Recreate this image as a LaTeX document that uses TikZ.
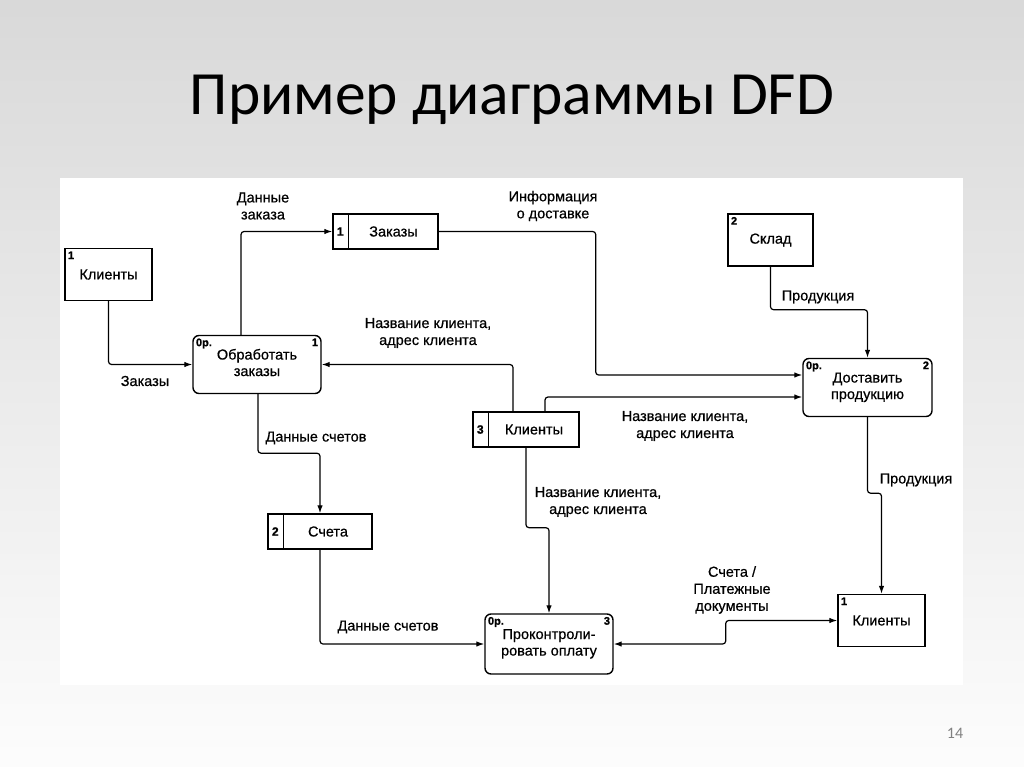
\documentclass[tikz,border=0pt]{standalone}
\usepackage{fontspec}
\setmainfont[FakeBold=1.2]{Liberation Sans}
\newfontfamily\slidefont{Carlito}
\newfontfamily\scanfont[FakeBold=0.6]{Liberation Sans}
\usetikzlibrary{arrows.meta,positioning}
\newcommand{\twolines}[2]{\raisebox{-4pt}{\begin{tabular}{@{}c@{}}#1\\#2\end{tabular}}}

\begin{document}
\begin{tikzpicture}[x=1pt,y=-1pt,
    ent/.style={draw,line width=1.4pt,minimum width=87pt,minimum height=52pt,
      inner sep=0pt,font=\scanfont\fontsize{14.5}{17}\selectfont},
    proc/.style={draw,line width=1.4pt,rounded corners=6pt,minimum width=128pt,
      minimum height=58pt,align=center,inner sep=0pt,
      font=\scanfont\fontsize{14.5}{16.5}\selectfont},
    store/.style={draw,line width=1.4pt,minimum width=105pt,minimum height=35pt,
      inner sep=0pt,font=\scanfont\fontsize{14.5}{17}\selectfont},
    num/.style={inner sep=3.5pt,font=\bfseries\fontsize{11}{12}\selectfont},
    lbl/.style={align=center,inner sep=0pt,font=\scanfont\fontsize{14.5}{17}\selectfont},
    flow/.style={-{Latex[length=8pt,width=5.5pt]},line width=1.2pt,rounded corners=3pt},
    flowboth/.style={{Latex[length=8pt,width=5.5pt]}-{Latex[length=8pt,width=5.5pt]},
      line width=1.2pt,rounded corners=3pt}
  ]
  \useasboundingbox (0,0) rectangle (1024,767);
  \shade[top color=black!15,bottom color=black!1] (0,0) rectangle (1024,767);
  \fill[white] (60,178) rectangle (963,685);

  \node[font=\slidefont\fontsize{61.5}{70}\selectfont,anchor=base] (title) at (512,115)
    {Пример диаграммы DFD};
  \node[font=\slidefont\fontsize{16}{18}\selectfont,text=black!50,anchor=base] (pagenum)
    at (955,738) {14};

  % внешние сущности, процессы и накопители
  \node[ent,label={[num,anchor=north west]north west:1}] (ent1) at (108.5,274.5)
    {\raisebox{-4pt}{Клиенты}};
  \node[ent,minimum width=85pt,label={[num,anchor=north west]north west:2}] (ent2)
    at (770.5,240) {\raisebox{-3pt}{Склад}};
  \node[ent,label={[num,anchor=north west]north west:1}] (ent3) at (881.5,620.5) {Клиенты};

  \node[proc,label={[num,anchor=north west]north west:0р.},
    label={[num,anchor=north east]north east:1}] (proc1) at (257,364.5)
    {\twolines{Обработать}{заказы}};
  \node[proc,minimum width=129pt,label={[num,anchor=north west]north west:0р.},
    label={[num,anchor=north east]north east:2}] (proc2) at (867.5,387.5)
    {\twolines{Доставить}{продукцию}};
  \node[proc,minimum height=60pt,label={[num,anchor=north west]north west:0р.},
    label={[num,anchor=north east]north east:3}] (proc3) at (549,644)
    {\twolines{Проконтроли-}{ровать оплату}};

  \node[store] (st1) at (385.5,231.5) {\hspace*{16pt}Заказы};
  \node[store,minimum width=104pt] (st2) at (320,531.5) {\hspace*{16pt}Счета};
  \node[store,minimum width=106pt] (st3) at (526,429.5) {\hspace*{16pt}Клиенты};
  \foreach \s/\n in {st1/1,st2/2,st3/3}{
    \draw[line width=1.4pt] ([xshift=16pt]\s.north west) -- ([xshift=16pt]\s.south west);
    \node[num,font=\bfseries\fontsize{12}{13}\selectfont] (n\s) at ([xshift=8pt]\s.west) {\n};
  }

  % потоки данных
  \draw[flow] (ent1.south) |- (proc1.west);
  \draw[flow] ([xshift=-16pt]proc1.north) |- (st1.west);
  \draw[flow] (st1.east) -- ++(157,0) |- ([yshift=12.5pt]proc2.west);
  \draw[flow] ([xshift=-13pt]st3.north) |- (proc1.east);
  \draw[flow] ([xshift=19pt]st3.north) |- ([yshift=-9.5pt]proc2.west);
  \draw[flow] (ent2.south) -- ++(0,43) -| (proc2.north);
  \draw[flow] (proc2.south) -- ++(0,76) -| (ent3.north);
  \draw[flow] ([xshift=1pt]proc1.south) -- ++(0,59) -| (st2.north);
  \draw[flow] (st2.south) |- (proc3.west);
  \draw[flow] (st3.south) -- ++(0,80) -| (proc3.north);
  \draw[flowboth] (proc3.east) -- ++(112,0) |- (ent3.west);

  \node[lbl] (l1) at (145,381) {Заказы};
  \node[lbl] (l2) at (263,206) {Данные\\заказа};
  \node[lbl] (l3) at (553,206) {Информация\\о доставке};
  \node[lbl] (l4) at (428,333) {Название клиента,\\адрес клиента};
  \node[lbl] (l5) at (685,426) {Название клиента,\\адрес клиента};
  \node[lbl] (l6) at (818,297) {Продукция};
  \node[lbl] (l7) at (916,480) {Продукция};
  \node[lbl] (l8) at (316,438) {Данные счетов};
  \node[lbl] (l9) at (388,627) {Данные счетов};
  \node[lbl] (l10) at (598,502) {Название клиента,\\адрес клиента};
  \node[lbl] (l11) at (732,590) {Счета /\\Платежные\\документы};
\end{tikzpicture}
\end{document}
